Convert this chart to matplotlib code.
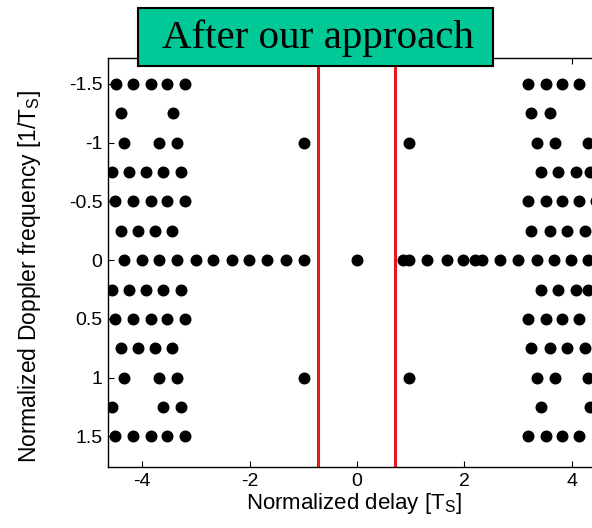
import numpy as np
import matplotlib.pyplot as plt
from matplotlib.patches import Rectangle

plt.rcParams['font.family'] = ['Liberation Sans', 'DejaVu Sans']

# Doppler rows (normalized units), top to bottom
rows = [-1.5, -1.25, -1.0, -0.75, -0.5, -0.25, 0.0, 0.25, 0.5, 0.75, 1.0, 1.25, 1.5]

# delays of the remaining cells in the left block, one list per row
left_delays = [
    [-4.49, -4.17, -3.84, -3.53, -3.20],
    [-4.40, -3.43],
    [-4.34, -3.69, -3.36],
    [-4.57, -4.25, -3.93, -3.61, -3.27],
    [-4.51, -4.17, -3.84, -3.53, -3.20],
    [-4.40, -4.08, -3.76, -3.44],
    [-4.34, -4.01, -3.69, -3.36, -3.00, -2.69, -2.33, -2.01, -1.68, -1.33, -0.99],
    [-4.57, -4.25, -3.93, -3.61, -3.27],
    [-4.51, -4.17, -3.84, -3.53, -3.20],
    [-4.40, -4.08, -3.76, -3.44],
    [-4.34, -3.69, -3.36],
    [-4.57, -3.61, -3.27],
    [-4.51, -4.17, -3.84, -3.53, -3.20],
]

# delays of the remaining cells in the right block
right_delays = [
    [3.19, 3.52, 3.81, 4.14],
    [3.25, 3.59],
    [3.35, 3.68, 4.31],
    [3.42, 3.75, 4.08, 4.34],
    [3.19, 3.52, 3.81, 4.14, 4.46],
    [3.25, 3.59, 3.92, 4.25],
    [0.86, 0.96, 1.31, 1.67, 1.98, 2.20, 2.32, 2.67, 3.00, 3.36, 3.67, 3.98, 4.31],
    [3.42, 3.75, 4.08, 4.31],
    [3.19, 3.52, 3.81, 4.14],
    [3.25, 3.59, 3.92, 4.25],
    [3.35, 3.68, 4.31],
    [3.42, 4.34],
    [3.19, 3.52, 3.81, 4.14],
]

# isolated cells near the guard region
iso_delay = [0.0, -0.98, -0.98, 0.97, 0.97]
iso_doppler = [0.0, -1.0, 1.0, -1.0, 1.0]

# guard band limits
guard = [-0.72, 0.70]

xs, ys = [], []
for y, lx, rx in zip(rows, left_delays, right_delays):
    for x in lx + rx:
        xs.append(x)
        ys.append(y)
xs += iso_delay
ys += iso_doppler

fig = plt.figure(figsize=(5.92, 5.28), dpi=100)
ax = fig.add_axes([0.1824, 0.1155, 0.831, 0.7746])

ax.plot(xs, ys, 'o', color='black', markersize=7.6, linestyle='none', zorder=3)
for g in guard:
    ax.axvline(g, color='#e41a1c', linewidth=2.2, zorder=2)

ax.set_xlim(-4.637, 4.525)
ax.set_ylim(1.76, -1.72)
ax.set_xticks([-4, -2, 0, 2, 4])
ax.set_xticklabels(['-4', '-2', '0', '2', '4'])
ax.set_yticks([-1.5, -1, -0.5, 0, 0.5, 1, 1.5])
ax.set_yticklabels(['-1.5', '-1', '-0.5', '0', '0.5', '1', '1.5'])
ax.tick_params(direction='in', length=4, labelsize=14, top=True, pad=4)
for s in ax.spines.values():
    s.set_linewidth(1.0)

ax.set_xlabel(r'Normalized delay [T$_\mathregular{S}$]', fontsize=16, labelpad=1)
ax.set_ylabel(r'Normalized Doppler frequency [1/T$_\mathregular{S}$]', fontsize=16.5)
ax.yaxis.set_label_coords(-0.132, 0.465)

# label box over the top of the plot
fig.patches.append(Rectangle((138 / 592, 1 - 66 / 528), (493 - 138) / 592, (66 - 8) / 528,
                             transform=fig.transFigure, facecolor='#00c896',
                             edgecolor='black', linewidth=1.5, zorder=5))
fig.text(318 / 592, 1 - 38 / 528, 'After our approach', family='Liberation Serif',
         fontsize=29.5, ha='center', va='center', zorder=6)

fig.savefig('out.png', dpi=100)
